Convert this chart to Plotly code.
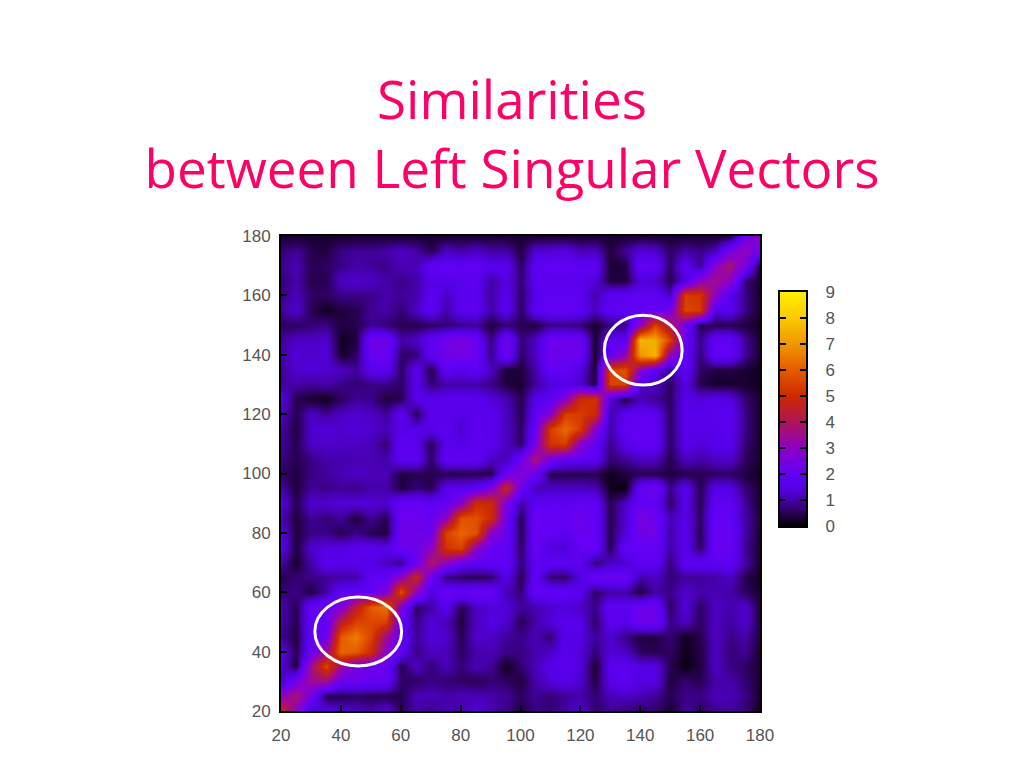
import plotly.graph_objects as go

title_text = "Similarities<br>between Left Singular Vectors"
x_values = list(range(20, 181, 5))
y_values = list(range(20, 181, 5))
tick_values = [20, 40, 60, 80, 100, 120, 140, 160, 180]
colorbar_ticks = [0, 1, 2, 3, 4, 5, 6, 7, 8, 9]
colorbar_levels = [0, 0.5, 1, 1.5, 2, 3, 4, 5, 6, 7, 8, 9]

z_rows = [
    [4.8,3.0,1.2,1.5,1.3,1.2,1.0,1.4,0.5,1.0,0.8,1.0,1.0,1.4,1.0,0.8,0.4,0.8,0.7,0.9,1.4,0.6,0.9,0.7,0.6,0.7,0.3,0.9,0.6,0.8,0.9,0.7,0.2],
    [3.0,3.8,2.4,0.5,0.5,0.6,0.5,0.5,0.5,1.1,1.1,1.0,1.1,1.1,1.0,0.9,0.6,0.9,0.7,0.9,1.0,0.7,1.1,1.2,1.1,0.9,0.5,0.8,0.8,1.1,1.1,0.8,0.3],
    [1.2,2.4,3.5,3.6,2.2,2.2,2.1,2.0,0.6,0.6,0.8,0.7,0.6,0.5,0.7,0.6,0.4,1.0,1.4,1.6,1.3,0.4,1.6,1.8,1.5,1.5,0.4,0.7,0.5,1.0,1.0,0.7,0.3],
    [1.4,0.4,3.6,5.6,3.5,2.4,2.2,2.2,0.5,1.2,0.7,1.1,0.7,1.1,0.9,0.2,0.7,1.1,1.6,1.7,1.4,0.3,1.7,1.8,1.5,1.5,0.5,0.1,0.4,1.2,0.8,0.6,0.3],
    [1.6,0.5,2.1,3.5,6.2,6.0,5.0,2.8,1.8,0.8,1.2,1.1,0.6,1.0,1.1,0.8,0.8,1.0,1.2,1.7,1.4,0.7,1.4,1.2,0.6,0.5,0.6,0.2,0.4,1.2,0.7,0.9,0.3],
    [0.9,0.4,2.0,2.2,6.0,6.6,5.5,3.5,2.0,0.9,1.4,1.3,0.5,1.3,1.2,0.9,0.8,1.1,0.7,1.6,1.5,0.9,1.3,0.8,0.4,0.4,0.7,0.2,0.5,1.2,0.8,1.0,0.4],
    [1.0,0.5,2.0,1.9,4.5,5.5,5.6,5.5,2.0,0.8,1.4,1.1,0.4,1.2,1.5,1.3,0.5,1.0,1.4,1.7,1.6,0.6,1.7,1.6,2.2,2.3,0.8,1.2,0.6,1.2,0.9,1.3,0.4],
    [1.1,0.5,2.1,2.2,2.6,4.5,6.0,6.4,2.6,0.6,1.0,1.7,0.5,1.2,1.4,1.4,0.9,1.0,1.3,1.4,1.2,0.8,1.9,1.8,2.3,2.2,0.6,1.4,0.6,1.2,1.0,1.3,0.4],
    [0.7,0.8,0.4,1.0,1.9,1.9,2.0,2.6,5.8,3.0,1.4,2.1,2.1,2.2,2.1,1.1,0.7,2.1,2.0,2.0,1.7,0.6,1.0,1.0,0.4,1.0,0.8,1.3,1.0,1.1,1.0,0.6,0.3],
    [0.5,0.7,0.8,0.9,1.0,1.0,1.9,2.0,3.0,4.8,2.2,0.7,0.6,0.5,0.6,1.6,0.5,1.9,0.7,0.6,1.5,2.2,2.2,2.2,1.0,1.2,0.7,0.9,0.9,1.0,1.2,0.5,0.2],
    [1.0,0.3,1.0,1.7,1.6,1.6,1.5,1.2,0.8,2.2,4.0,3.0,2.0,1.9,1.9,2.0,0.7,1.8,1.9,1.9,1.8,0.7,1.2,1.3,1.9,1.9,0.7,1.8,1.9,1.8,1.9,1.0,0.3],
    [1.6,0.4,1.3,1.5,1.5,1.7,1.7,1.6,2.2,2.2,3.0,5.2,5.5,3.0,2.0,2.0,0.6,2.1,1.4,1.3,2.0,2.1,0.5,2.0,2.0,2.0,1.0,1.7,0.6,2.1,2.1,0.9,0.3],
    [1.5,0.4,0.8,0.8,0.5,0.8,0.5,0.4,2.3,2.3,2.1,5.5,6.2,5.8,2.8,2.2,0.5,2.1,2.0,1.8,2.2,2.0,0.5,1.4,2.3,2.4,1.0,1.7,0.5,2.1,2.1,1.0,0.3],
    [1.1,0.4,0.9,0.7,0.9,0.4,0.9,0.5,2.2,2.2,2.1,3.0,5.8,5.8,5.0,2.3,0.5,2.1,2.1,2.0,2.2,2.0,0.5,1.3,2.6,2.2,1.1,1.6,0.6,2.1,2.0,1.0,0.4],
    [1.5,0.5,1.3,1.3,1.4,1.4,1.4,1.3,2.1,2.1,1.9,2.0,2.8,5.0,5.0,2.6,1.0,1.8,1.8,1.8,2.0,1.9,0.5,1.2,2.0,1.9,0.6,1.6,0.5,1.9,1.9,0.9,0.3],
    [1.0,0.4,0.9,0.8,0.9,0.8,1.0,1.0,0.4,0.7,0.5,1.6,1.7,1.8,2.6,4.8,2.2,1.1,1.2,1.2,1.2,1.1,0.2,0.1,2.0,2.4,0.8,1.7,0.5,1.6,1.5,0.7,0.3],
    [0.6,0.4,0.8,0.9,1.1,1.2,1.1,1.1,0.4,0.5,0.5,0.5,0.5,0.5,0.5,2.2,2.8,2.2,0.5,0.5,0.5,0.5,0.2,0.4,0.5,0.5,0.4,0.5,0.5,0.6,0.6,0.4,0.2],
    [0.8,0.5,0.8,1.0,1.0,1.1,1.1,1.0,1.8,1.8,0.6,1.9,1.9,1.9,1.2,1.1,2.2,3.8,2.5,1.9,1.9,1.8,0.7,0.9,1.2,1.2,0.5,1.2,1.0,1.2,1.3,0.6,0.3],
    [0.9,0.5,1.2,1.3,1.2,1.2,1.1,0.7,1.9,1.7,0.5,1.7,1.5,1.8,1.7,1.2,0.6,2.5,5.2,5.4,2.8,2.0,0.8,1.6,1.9,1.9,0.6,1.6,1.4,1.6,1.6,0.7,0.3],
    [1.0,0.4,1.3,1.4,1.3,1.4,1.3,1.1,1.6,1.6,1.6,1.8,1.3,1.8,1.7,1.2,0.6,2.1,5.4,6.3,5.4,2.8,1.0,1.9,2.0,1.9,0.6,1.6,1.6,1.6,1.7,0.8,0.3],
    [1.2,0.5,1.2,0.9,1.2,1.3,1.2,0.9,1.8,0.5,1.7,1.7,1.5,1.7,1.7,1.2,0.5,1.8,2.8,5.4,5.4,5.0,1.0,1.8,1.9,1.7,0.6,1.6,1.6,1.7,1.7,0.8,0.3],
    [1.5,0.5,0.3,0.2,0.6,0.9,0.8,0.4,0.5,1.6,1.6,1.7,1.7,1.7,1.4,1.1,0.5,1.6,1.8,2.8,5.0,5.2,1.4,0.4,1.1,0.9,0.6,1.6,1.4,1.6,1.5,0.7,0.3],
    [0.9,1.0,0.9,1.0,0.8,0.7,0.8,0.8,0.6,1.6,0.7,1.0,1.0,1.0,0.8,0.4,0.3,0.9,1.4,1.5,1.3,0.4,5.5,5.5,1.2,1.2,0.6,1.5,0.5,0.3,0.3,0.3,0.2],
    [0.9,1.3,1.4,1.3,1.2,0.9,1.7,1.7,0.6,1.7,0.4,1.9,1.6,1.9,1.2,0.3,0.4,1.0,2.0,2.0,1.5,0.3,5.5,5.8,3.0,1.7,0.8,1.9,0.6,0.4,0.4,0.3,0.2],
    [1.0,1.4,1.3,1.4,0.3,0.6,2.2,2.2,0.6,0.7,1.8,2.3,2.4,2.2,0.8,2.3,0.6,1.2,2.2,2.2,2.2,0.3,2.0,3.0,7.0,7.6,3.0,2.0,0.7,2.0,2.0,0.9,0.3],
    [0.9,1.2,1.2,1.3,0.2,0.4,2.3,2.3,1.0,1.2,1.9,2.3,2.6,2.2,0.7,2.4,0.7,1.2,2.2,2.3,2.2,0.3,1.9,1.7,7.6,7.4,5.5,2.0,0.8,2.0,2.0,0.9,0.3],
    [0.6,0.6,0.7,0.8,0.4,0.5,0.9,0.7,0.5,0.5,0.6,0.7,0.8,0.9,0.4,0.7,0.5,0.4,0.8,0.8,0.7,0.3,0.7,0.8,3.0,5.5,4.0,2.4,0.5,0.5,0.5,0.4,0.2],
    [0.9,1.3,0.5,0.2,0.4,0.5,0.9,1.0,0.7,1.2,1.9,1.0,1.8,1.8,1.0,1.7,0.6,1.8,2.0,2.0,1.9,1.2,1.9,1.9,2.0,2.0,2.4,5.6,5.4,1.5,1.7,0.8,0.3],
    [0.8,1.1,0.6,0.6,0.8,0.8,0.8,1.0,0.9,1.0,1.8,1.2,1.7,1.7,0.9,1.7,0.6,1.6,1.9,1.9,1.8,1.0,1.8,1.8,1.9,1.9,1.2,5.4,5.2,3.0,1.6,0.8,0.3],
    [0.7,1.0,0.5,0.5,1.2,1.3,1.2,1.0,0.8,1.0,1.6,1.6,1.7,1.7,1.0,1.5,0.7,1.7,1.7,1.7,1.7,1.4,0.4,0.4,1.4,1.3,0.5,1.4,3.0,3.6,3.0,0.7,0.3],
    [0.8,1.1,0.5,0.6,0.8,1.0,0.9,0.8,1.1,1.1,1.9,2.0,1.9,2.0,1.6,1.7,0.6,1.8,2.0,2.0,1.9,1.9,0.3,0.4,2.0,1.9,0.6,1.8,0.9,3.0,3.8,2.5,0.3],
    [0.7,0.9,0.5,0.4,0.8,0.9,0.9,1.0,1.2,1.0,0.5,1.2,1.0,1.2,1.0,1.0,0.4,1.3,1.4,1.5,1.1,1.2,0.4,0.9,1.4,1.3,0.6,1.0,0.8,1.1,2.5,3.2,2.2],
    [0.3,0.3,0.3,0.3,0.3,0.3,0.3,0.3,0.3,0.3,0.3,0.3,0.3,0.3,0.3,0.3,0.3,0.3,0.3,0.3,0.3,0.3,0.3,0.3,0.3,0.3,0.3,0.3,0.3,0.3,0.4,2.2,3.2],
]

colorscale = [
    [0 / 9, "rgb(0,0,0)"],
    [0.5 / 9, "rgb(40,0,80)"],
    [1 / 9, "rgb(70,0,170)"],
    [1.5 / 9, "rgb(85,0,230)"],
    [2 / 9, "rgb(98,0,245)"],
    [3 / 9, "rgb(140,0,200)"],
    [4 / 9, "rgb(175,20,90)"],
    [5 / 9, "rgb(205,40,0)"],
    [6 / 9, "rgb(228,90,0)"],
    [7 / 9, "rgb(240,150,0)"],
    [8 / 9, "rgb(250,200,0)"],
    [9 / 9, "rgb(255,240,0)"],
]

label_font = dict(family="Liberation Sans", size=17, color="#555555")

fig = go.Figure()
fig.add_trace(go.Heatmap(
    x=x_values, y=y_values, z=z_rows, zmin=0, zmax=9, zsmooth="best",
    colorscale=colorscale, hoverinfo="skip", showscale=False,
))
fig.add_trace(go.Heatmap(
    x=[0, 1], y=colorbar_levels, z=[[v, v] for v in colorbar_levels],
    zmin=0, zmax=9, zsmooth="best", colorscale=colorscale,
    hoverinfo="skip", showscale=False, xaxis="x2", yaxis="y2",
))

axis_style = dict(
    range=[20, 180], tickmode="array", tickvals=tick_values,
    ticks="inside", ticklen=6, tickwidth=2, tickcolor="black",
    showline=True, linecolor="black", linewidth=2, mirror=True, showgrid=False,
    zeroline=False, tickfont=label_font,
)

ellipses = [dict(x0=31.3, x1=60.3, y0=35.2, y1=58.4), dict(x0=128, x1=154, y0=129.8, y1=153.3)]
shapes = [
    dict(type="circle", xref="x", yref="y", line=dict(color="white", width=3), **e)
    for e in ellipses
]

fig.update_layout(
    width=1024, height=768, autosize=False,
    margin=dict(l=281, r=218, t=236, b=57),
    paper_bgcolor="white", plot_bgcolor="black",
    title=dict(
        text=title_text, x=0.5, xref="container", xanchor="center",
        y=0.845, yanchor="top",
        font=dict(family="Open Sans", size=53, color="#ff0066"),
    ),
    xaxis=dict(axis_style, ticklabelstandoff=8, domain=[0, 479 / 525]),
    yaxis=dict(axis_style, ticklabelstandoff=5),
    xaxis2=dict(domain=[499 / 525, 1], range=[0, 1], anchor="y2", showticklabels=False,
                ticks="", showgrid=False, zeroline=False, showline=True,
                linecolor="black", linewidth=2, mirror=True),
    yaxis2=dict(domain=[185 / 475, 419 / 475], range=[0, 9], anchor="x2", side="right",
                tickmode="array", tickvals=colorbar_ticks, ticks="inside", ticklen=6,
                tickwidth=2, tickcolor="black", showgrid=False, zeroline=False,
                showline=True, linecolor="black", linewidth=2, mirror="ticks",
                tickfont=label_font, ticklabelstandoff=14),
    shapes=shapes,
)

fig.write_html("out.html", config={"displayModeBar": False},
               post_script="document.body.style.margin='0';")
